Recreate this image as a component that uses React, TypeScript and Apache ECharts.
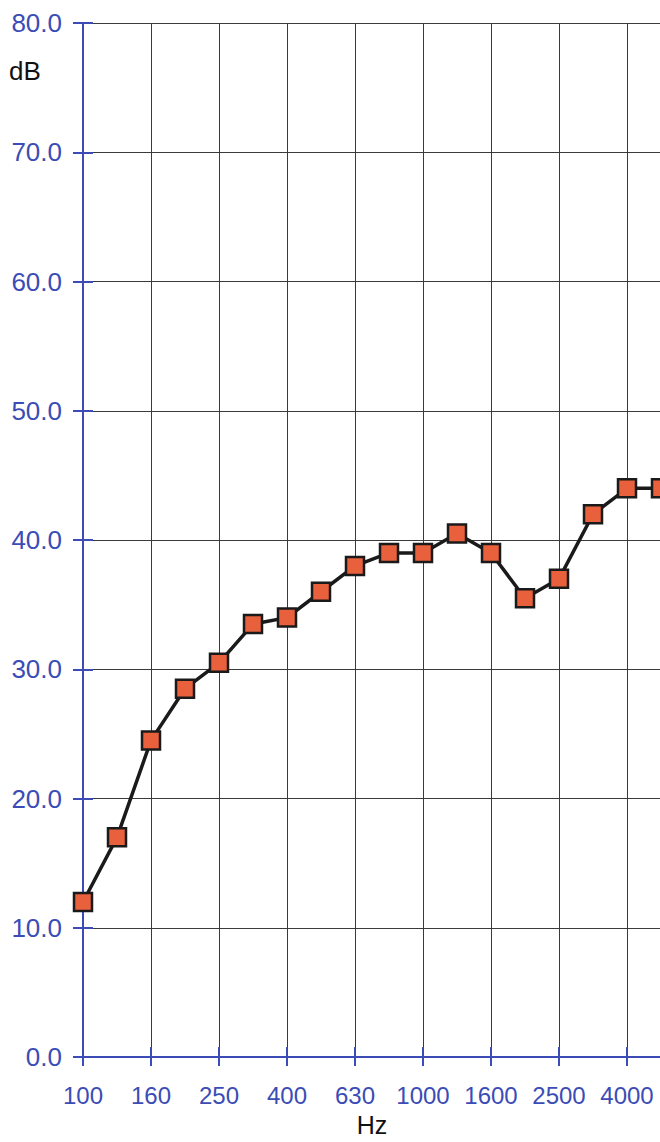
import React, { useEffect, useRef } from "react";
import * as echarts from "echarts";

const categories = ["100", "125", "160", "200", "250", "315", "400", "500", "630", "800", "1000", "1250", "1600", "2000", "2500", "3150", "4000", "5000"];
const values = [12.0, 17.0, 24.5, 28.5, 30.5, 33.5, 34.0, 36.0, 38.0, 39.0, 39.0, 40.5, 39.0, 35.5, 37.0, 42.0, 44.0, 44.0];
const yTicks = { min: 0, max: 80, interval: 10 };
const yUnit = "dB";
const xUnit = "Hz";

const BLUE = "#3b4cb6";
const FONT = "'Liberation Sans', Arial, sans-serif";

export default function App() {
  const ref = useRef<HTMLDivElement>(null);
  useEffect(() => {
    if (!ref.current) return;
    const chart = echarts.init(ref.current, undefined, { renderer: "svg" });
    chart.setOption({
      animation: false,
      backgroundColor: "#ffffff",
      grid: { left: 83, top: 23, width: 578, height: 1065, containLabel: false },
      graphic: [
        {
          type: "text",
          left: 9,
          top: 58,
          style: { text: yUnit, fill: "#111", font: `26px ${FONT}` },
        },
      ],
      xAxis: [
        {
          type: "category",
          data: categories,
          boundaryGap: false,
          position: "bottom",
          name: xUnit,
          nameLocation: "middle",
          nameGap: 50,
          nameTextStyle: { color: "#111", fontSize: 25, fontFamily: FONT },
          axisLine: { show: true, lineStyle: { color: BLUE, width: 2 } },
          axisTick: { show: true, inside: false, length: 9, interval: 1, lineStyle: { color: BLUE, width: 2 } },
          axisLabel: { interval: 1, color: BLUE, fontSize: 24, fontFamily: FONT, margin: 26 },
          splitLine: { show: true, interval: 1, lineStyle: { color: "#3a3a3a", width: 1 } },
        },
        {
          type: "category",
          data: categories,
          boundaryGap: false,
          position: "bottom",
          axisLine: { show: false },
          axisTick: { show: true, inside: true, length: 10, interval: 1, lineStyle: { color: BLUE, width: 2 } },
          axisLabel: { show: false },
          splitLine: { show: false },
        },
      ],
      yAxis: [
        {
          type: "value",
          min: yTicks.min,
          max: yTicks.max,
          interval: yTicks.interval,
          position: "left",
          axisLine: { show: true, lineStyle: { color: BLUE, width: 2 } },
          axisTick: { show: true, inside: false, length: 10, lineStyle: { color: BLUE, width: 2 } },
          axisLabel: {
            color: BLUE,
            fontSize: 26,
            fontFamily: FONT,
            margin: 21,
            formatter: (v: number) => v.toFixed(1),
          },
          splitLine: { show: true, lineStyle: { color: "#3a3a3a", width: 1 } },
        },
        {
          type: "value",
          min: yTicks.min,
          max: yTicks.max,
          interval: yTicks.interval,
          position: "left",
          axisLine: { show: false },
          axisTick: { show: true, inside: true, length: 10, lineStyle: { color: BLUE, width: 2 } },
          axisLabel: { show: false },
          splitLine: { show: false },
        },
      ],
      series: [
        {
          type: "line",
          data: values,
          xAxisIndex: 0,
          yAxisIndex: 0,
          symbol: "rect",
          symbolSize: 18,
          lineStyle: { color: "#1a1a1a", width: 3.5 },
          itemStyle: { color: "#e8603c", borderColor: "#1a1a1a", borderWidth: 2.5 },
          z: 5,
        },
      ],
    });
    return () => chart.dispose();
  }, []);
  return (
    <div style={{ position: "fixed", left: 0, top: 0, width: 660, height: 1142, overflow: "hidden", background: "#fff" }}>
      <div ref={ref} style={{ width: 720, height: 1142 }} />
    </div>
  );
}
